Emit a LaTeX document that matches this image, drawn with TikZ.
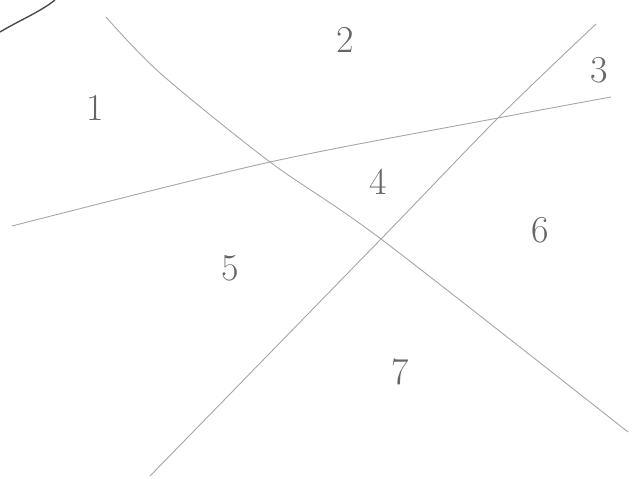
\documentclass[tikz,border=0pt]{standalone}
\usepackage{tikz}
\usetikzlibrary{positioning, calc}
\tikzset{
  gerade/.style={draw=black!35, line width=0.9pt},
  feld/.style={font=\fontsize{38}{42}\selectfont, text=black!60}
}

\begin{document}
\begin{tikzpicture}[x=1pt, y=-1pt]

            \useasboundingbox (0,0) rectangle (640,479);

            % Endpunkte und Schnittpunkte der drei Geraden
            \coordinate (A1) at (106,17);
            \coordinate (A2) at (628,432);
            \coordinate (B1) at (150,476);
            \coordinate (B2) at (596,24);
            \coordinate (C1) at (12,226);
            \coordinate (C2) at (611,97);
            \coordinate (AC) at (270,162);
            \coordinate (AB) at (381,239);
            \coordinate (BC) at (498,118);

            % Geraden (von Hand, leicht gebogen)
            \draw[gerade] plot[smooth] coordinates {(A1) (160,73) (AC) (AB) (A2)};
            \draw[gerade] plot[smooth] coordinates {(B1) (AB) (BC) (B2)};
            \draw[gerade] plot[smooth] coordinates {(C1) (AC) (BC) (C2)};

            % Bogen oben links
            \draw[black!70, line width=1.4pt] (0,32) .. controls (20,20) and (40,12) .. (55,0);

            % Felder
            \node[feld] (f1) at (95,108) {1};
            \node[feld] (f2) at (345,40) {2};
            \node[feld] (f3) at (599,70) {3};
            \node[feld] (f4) at (378,182) {4};
            \node[feld] (f5) at (230,268) {5};
            \node[feld] (f6) at (540,230) {6};
            \node[feld] (f7) at (400,372) {7};

         \end{tikzpicture}
\end{document}
